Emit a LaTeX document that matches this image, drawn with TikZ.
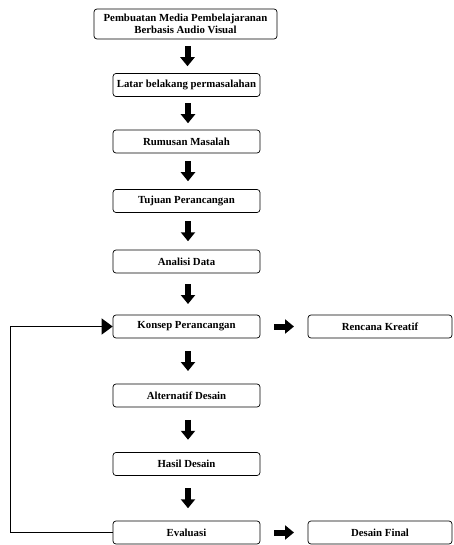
\documentclass[tikz,border=0pt]{standalone}
\usepackage{fontspec}
\setmainfont{Liberation Serif}
\usepackage{tikz}
\usetikzlibrary{arrows.meta, calc}

\tikzset{
    stepbox/.style = {rectangle, rounded corners = 3pt, draw, line width = 0.7pt,
        minimum width = 147pt, minimum height = 23pt, inner sep = 0pt,
        align = center, font = \fontsize{10.8}{11.5}\selectfont\bfseries},
    fatarrow/.style = {line width = 6pt, -{Triangle[width = 14pt, length = 9pt]}}
}

\begin{document}
\begin{tikzpicture}[x = 1pt, y = -1pt]
        \useasboundingbox (0,0) rectangle (453,545);

        \node (media) [stepbox, minimum width = 183pt, minimum height = 30pt] at (185.5,24) {Pembuatan Media Pembelajaranan\\Berbasis Audio Visual};
        \node (latar) [stepbox] at (186.5,85) {Latar belakang permasalahan};
        \node (rumusan) [stepbox] at (186.5,141.5) {Rumusan Masalah};
        \node (tujuan) [stepbox] at (186.5,201) {Tujuan Perancangan};
        \node (analisi) [stepbox] at (186.5,261.5) {Analisi Data};
        \node (konsep) [stepbox] at (186.5,326.5) {Konsep Perancangan};
        \node (alternatif) [stepbox] at (186.5,395.5) {Alternatif Desain};
        \node (hasil) [stepbox] at (186.5,464) {Hasil Desain};
        \node (evaluasi) [stepbox] at (186.5,532.5) {Evaluasi};

        \node (rencana) [stepbox, minimum width = 144pt] at (380,326.5) {Rencana Kreatif};
        \node (final) [stepbox, minimum width = 144pt] at (380,532.5) {Desain Final};

        \foreach \a/\b in {media/latar, latar/rumusan, rumusan/tujuan, tujuan/analisi,
            analisi/konsep, konsep/alternatif, alternatif/hasil, hasil/evaluasi}
        {
            \draw [fatarrow] ($(\a.south)!0.5!(\b.north) + (1.5,-10)$) -- ++(0,20);
        }

        \foreach \a/\b in {konsep/rencana, evaluasi/final}
        {
            \draw [fatarrow] ($(\a.east)!0.5!(\b.west) + (-10,0)$) -- ++(20,0);
        }

        % balik ke konsep
        \draw [line width = 1.5pt, -{Triangle[width = 16pt, length = 11pt]}]
            (evaluasi.west) -- ++(-102,0) |- (konsep.west);
    \end{tikzpicture}
\end{document}
